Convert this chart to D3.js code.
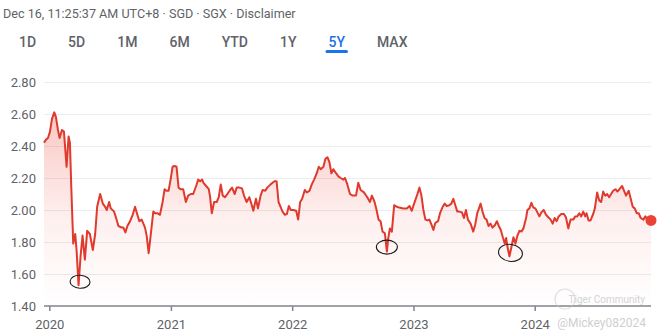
<!DOCTYPE html>
<html>
<head>
<meta charset="utf-8">
<script src="https://cdn.jsdelivr.net/npm/d3@7/dist/d3.min.js"></script>
<style>
  html, body { margin: 0; padding: 0; background: #fff; }
  svg { display: block; font-family: Roboto, "Noto Sans", Arial, sans-serif; }
</style>
</head>
<body>
<svg id="chart" width="658" height="336"></svg>
<script>
// ---- header / tabs ----
const headerText = "Dec 16, 11:25:37 AM UTC+8 · SGD · SGX · Disclaimer";
const rangeTabs = ["1D", "5D", "1M", "6M", "YTD", "1Y", "5Y", "MAX"];
const activeTab = "5Y";

// ---- axis ticks ----
const priceTicks = [1.4, 1.6, 1.8, 2.0, 2.2, 2.4, 2.6, 2.8];
const yearTicks = ["2020-01-01", "2021-01-01", "2022-01-01", "2023-01-01", "2024-01-01"];
const xDomain = ["2019-12-16", "2024-12-16"];

// ---- closing prices (SGD) ----
const dates = [
  "2019-12-16","2019-12-22","2019-12-28","2020-01-03","2020-01-09","2020-01-16","2020-01-21","2020-01-27",
  "2020-02-01","2020-02-08","2020-02-14","2020-02-22","2020-02-28","2020-03-03","2020-03-07","2020-03-13",
  "2020-03-19","2020-03-23","2020-03-29","2020-04-04","2020-04-10","2020-04-17","2020-04-24","2020-05-02",
  "2020-05-11","2020-05-18","2020-05-24","2020-06-02","2020-06-10","2020-06-17","2020-06-22","2020-06-29",
  "2020-07-04","2020-07-14","2020-07-20","2020-07-27","2020-08-06","2020-08-11","2020-08-17","2020-08-23",
  "2020-08-31","2020-09-08","2020-09-15","2020-09-22","2020-09-28","2020-10-05","2020-10-15","2020-10-20",
  "2020-10-26","2020-11-01","2020-11-09","2020-11-15","2020-11-21","2020-11-29","2020-12-07","2020-12-13",
  "2020-12-19","2020-12-25","2020-12-31","2021-01-06","2021-01-12","2021-01-18","2021-01-24","2021-01-30",
  "2021-02-07","2021-02-15","2021-02-22","2021-03-02","2021-03-09","2021-03-18","2021-03-24","2021-03-30",
  "2021-04-05","2021-04-09","2021-04-17","2021-04-25","2021-04-29","2021-05-04","2021-05-11","2021-05-19",
  "2021-05-25","2021-05-31","2021-06-06","2021-06-13","2021-06-20","2021-06-28","2021-07-04","2021-07-12",
  "2021-07-18","2021-07-26","2021-08-03","2021-08-09","2021-08-17","2021-08-25","2021-08-31","2021-09-06",
  "2021-09-14","2021-09-20","2021-09-28","2021-10-04","2021-10-12","2021-10-18","2021-10-28","2021-11-03",
  "2021-11-09","2021-11-15","2021-11-21","2021-11-27","2021-12-03","2021-12-10","2021-12-16","2021-12-22",
  "2021-12-28","2022-01-04","2022-01-13","2022-01-19","2022-01-25","2022-01-31","2022-02-08","2022-02-14",
  "2022-02-22","2022-03-01","2022-03-08","2022-03-16","2022-03-22","2022-03-28","2022-04-05","2022-04-11",
  "2022-04-17","2022-04-23","2022-04-29","2022-05-05","2022-05-13","2022-05-20","2022-05-27","2022-06-04",
  "2022-06-09","2022-06-16","2022-06-24","2022-07-02","2022-07-12","2022-07-19","2022-07-26","2022-08-05",
  "2022-08-15","2022-08-23","2022-08-29","2022-09-06","2022-09-12","2022-09-18","2022-09-24","2022-09-30",
  "2022-10-07","2022-10-13","2022-10-17","2022-10-22","2022-10-28","2022-11-04","2022-11-12","2022-11-19",
  "2022-12-01","2022-12-12","2022-12-20","2022-12-27","2023-01-03","2023-01-13","2023-01-19","2023-01-25",
  "2023-01-31","2023-02-06","2023-02-12","2023-02-18","2023-02-24","2023-03-02","2023-03-08","2023-03-16",
  "2023-03-22","2023-03-30","2023-04-05","2023-04-11","2023-04-19","2023-04-25","2023-05-01","2023-05-07",
  "2023-05-13","2023-05-19","2023-05-27","2023-06-02","2023-06-08","2023-06-14","2023-06-22","2023-06-30",
  "2023-07-06","2023-07-12","2023-07-18","2023-07-22","2023-07-28","2023-08-03","2023-08-09","2023-08-15",
  "2023-08-21","2023-08-27","2023-09-03","2023-09-09","2023-09-15","2023-09-21","2023-09-27","2023-10-03",
  "2023-10-07","2023-10-11","2023-10-17","2023-10-23","2023-10-29","2023-11-04","2023-11-10","2023-11-16",
  "2023-11-22","2023-11-28","2023-12-06","2023-12-10","2023-12-16","2023-12-22","2023-12-28","2024-01-03",
  "2024-01-09","2024-01-15","2024-01-21","2024-01-28","2024-02-04","2024-02-11","2024-02-18","2024-02-24",
  "2024-03-01","2024-03-07","2024-03-13","2024-03-21","2024-03-29","2024-04-04","2024-04-11","2024-04-18",
  "2024-04-26","2024-05-02","2024-05-08","2024-05-14","2024-05-20","2024-05-26","2024-06-01","2024-06-05",
  "2024-06-11","2024-06-17","2024-06-25","2024-06-30","2024-07-07","2024-07-13","2024-07-19","2024-07-25",
  "2024-07-31","2024-08-06","2024-08-12","2024-08-18","2024-08-24","2024-08-31","2024-09-06","2024-09-14",
  "2024-09-20","2024-09-26","2024-10-02","2024-10-10","2024-10-16","2024-10-22","2024-10-28","2024-11-03",
  "2024-11-09","2024-11-15","2024-11-23","2024-11-29","2024-12-05","2024-12-16"
];
const prices = [
  2.42,2.44,2.45,2.49,2.57,2.61,2.58,2.50,
  2.45,2.50,2.49,2.27,2.46,2.42,2.15,1.79,
  1.85,1.75,1.53,1.71,1.84,1.69,1.87,1.85,
  1.75,1.85,2.02,2.10,2.04,2.02,2.00,2.05,
  2.01,1.99,1.95,1.90,1.89,1.89,1.86,1.90,
  1.93,1.97,2.02,1.97,1.93,1.94,1.89,1.84,
  1.73,1.84,1.99,1.98,1.98,1.97,2.05,2.13,
  2.12,2.12,2.19,2.27,2.275,2.27,2.14,2.13,
  2.13,2.05,2.09,2.10,2.10,2.15,2.19,2.18,
  2.19,2.17,2.15,2.13,2.08,1.98,2.05,2.05,
  2.08,2.16,2.09,2.08,2.10,2.125,2.14,2.10,
  2.14,2.14,2.135,2.09,2.05,2.08,2.04,1.995,
  2.07,2.01,2.09,2.125,2.12,2.14,2.16,2.17,
  2.18,2.18,2.05,2.02,1.99,1.97,1.975,2.025,
  2.00,2.00,1.995,1.94,2.05,2.07,2.125,2.11,
  2.12,2.16,2.19,2.23,2.27,2.255,2.27,2.32,
  2.33,2.30,2.23,2.255,2.23,2.21,2.20,2.19,
  2.20,2.16,2.10,2.09,2.09,2.17,2.125,2.11,
  2.08,2.05,2.09,2.05,2.00,1.94,1.93,1.865,
  1.855,1.74,1.82,1.885,1.865,2.03,2.02,2.015,
  2.01,2.01,2.025,1.995,2.04,2.10,2.14,2.09,
  2.00,1.94,1.935,1.94,1.91,1.875,1.92,1.93,
  1.98,2.02,2.04,2.025,2.03,2.04,2.07,2.03,
  1.99,1.99,1.985,1.95,2.00,1.94,1.915,1.865,
  1.91,1.98,2.015,2.04,1.99,1.95,1.94,1.90,
  1.915,1.89,1.905,1.93,1.90,1.875,1.83,1.79,
  1.825,1.77,1.71,1.77,1.83,1.79,1.84,1.87,
  1.865,1.885,1.95,2.00,2.01,2.045,2.015,2.01,
  1.985,1.96,1.985,2.00,1.97,1.955,1.94,1.915,
  1.95,1.93,1.96,1.975,1.975,1.955,1.885,1.94,
  1.94,1.96,1.96,1.98,1.96,1.99,1.96,1.98,
  1.935,1.935,1.975,2.01,2.11,2.06,2.05,2.115,
  2.09,2.10,2.08,2.10,2.12,2.13,2.115,2.135,
  2.15,2.12,2.09,2.12,2.07,2.02,2.01,1.98,
  1.98,1.95,1.94,1.96,1.94,1.935
];

// dates of the hand-circled lows
const circledLows = ["2020-03-29", "2022-10-13", "2023-10-17"];

// ---- setup ----
const parse = d3.timeParse("%Y-%m-%d");
const series = dates.map((d, i) => ({ date: parse(d), value: prices[i] }));

const svg = d3.select("#chart");
const plot = { left: 44, right: 651, top: 82, bottom: 306 };

const x = d3.scaleTime().domain(xDomain.map(parse)).range([plot.left, plot.right]);
const y = d3.scaleLinear().domain([1.4, 2.8]).range([plot.bottom, plot.top]);

const textGrey = "#5f6368";
const lineRed = "#e0392d";

// header line
svg.append("text")
  .attr("x", 3).attr("y", 18)
  .attr("font-size", 12.6)
  .attr("fill", textGrey)
  .text(headerText);

// range tabs
const tabG = svg.append("g").attr("font-size", 14).attr("font-weight", 500);
let tabX = 19;
rangeTabs.forEach(label => {
  const t = tabG.append("text")
    .attr("x", tabX).attr("y", 47)
    .attr("fill", label === activeTab ? "#1a73e8" : textGrey)
    .text(label);
  const w = t.node().getComputedTextLength();
  if (label === activeTab) {
    tabG.append("rect")
      .attr("x", tabX - 3).attr("y", 50)
      .attr("width", w + 6).attr("height", 3)
      .attr("rx", 1.5)
      .attr("fill", "#1a73e8");
  }
  tabX += w + 32;
});

// gradient under the price line
const defs = svg.append("defs");
const grad = defs.append("linearGradient")
  .attr("id", "areaFill")
  .attr("gradientUnits", "userSpaceOnUse")
  .attr("x1", 0).attr("x2", 0)
  .attr("y1", y(2.62)).attr("y2", y(1.4));
grad.append("stop").attr("offset", "0%").attr("stop-color", "#ea4335").attr("stop-opacity", 0.3);
grad.append("stop").attr("offset", "55%").attr("stop-color", "#ea4335").attr("stop-opacity", 0.08);
grad.append("stop").attr("offset", "100%").attr("stop-color", "#ea4335").attr("stop-opacity", 0.0);

// horizontal grid + y labels
const yAxis = d3.axisLeft(y)
  .tickValues(priceTicks)
  .tickSize(-(plot.right - plot.left))
  .tickPadding(8)
  .tickFormat(d3.format(".2f"));
const yG = svg.append("g")
  .attr("transform", `translate(${plot.left},0)`)
  .call(yAxis);
yG.select(".domain").remove();
yG.selectAll(".tick line")
  .attr("stroke", "#ececec")
  .attr("stroke-width", 1)
  .filter(d => d === 1.4).remove();
yG.selectAll(".tick text")
  .attr("fill", textGrey)
  .attr("font-size", 13)
  .attr("font-family", "Roboto, 'Noto Sans', Arial, sans-serif");

// area + line
svg.append("path")
  .datum(series)
  .attr("fill", "url(#areaFill)")
  .attr("d", d3.area().x(d => x(d.date)).y0(plot.bottom).y1(d => y(d.value)));

svg.append("path")
  .datum(series)
  .attr("fill", "none")
  .attr("stroke", lineRed)
  .attr("stroke-width", 2)
  .attr("stroke-linejoin", "round")
  .attr("d", d3.line().x(d => x(d.date)).y(d => y(d.value)));

// x axis
const xAxis = d3.axisBottom(x)
  .tickValues(yearTicks.map(parse))
  .tickSize(5)
  .tickPadding(9)
  .tickFormat(d3.timeFormat("%Y"));
const xG = svg.append("g")
  .attr("transform", `translate(0,${plot.bottom})`)
  .call(xAxis);
xG.select(".domain")
  .attr("d", `M${plot.left},0H${plot.right}`)
  .attr("stroke", "#80868b")
  .attr("stroke-width", 1.5);
xG.selectAll(".tick line").attr("stroke", "#80868b").attr("stroke-width", 1.5);
xG.selectAll(".tick text")
  .attr("fill", textGrey)
  .attr("font-size", 13)
  .attr("font-family", "Roboto, 'Noto Sans', Arial, sans-serif");

// latest price marker
const last = series[series.length - 1];
svg.append("circle")
  .attr("cx", x(last.date)).attr("cy", y(last.value))
  .attr("r", 5.5)
  .attr("fill", "#ea4335");

// hand-drawn circles around the lows
const ink = svg.append("g").attr("fill", "none").attr("stroke", "#1b1b1b").attr("stroke-width", 1.1);
circledLows.forEach((ds, i) => {
  const p = series.find(s => s.date.getTime() === parse(ds).getTime());
  const cx = x(p.date) + [1.5, 0, 1][i];
  const cy = y(p.value) - [3.5, 4.5, 3.5][i];
  const rx = [10, 10.5, 12][i];
  const ry = [6.5, 7, 8.5][i];
  ink.append("ellipse")
    .attr("cx", cx).attr("cy", cy)
    .attr("rx", rx).attr("ry", ry)
    .attr("transform", `rotate(${[3, 0, 8][i]},${cx},${cy})`);
});

// watermark
const wm = svg.append("g").attr("opacity", 0.55);
wm.append("circle").attr("cx", 565).attr("cy", 299).attr("r", 10)
  .attr("fill", "none").attr("stroke", "#c8c8c8").attr("stroke-width", 1.2);
wm.append("text").attr("x", 645).attr("y", 303)
  .attr("text-anchor", "end")
  .attr("font-size", 10).attr("fill", "#b0b0b0")
  .text("Tiger Community");
wm.append("text").attr("x", 646).attr("y", 327)
  .attr("text-anchor", "end")
  .attr("font-size", 12).attr("fill", "#a8a8a8")
  .text("@Mickey082024");
</script>
</body>
</html>
